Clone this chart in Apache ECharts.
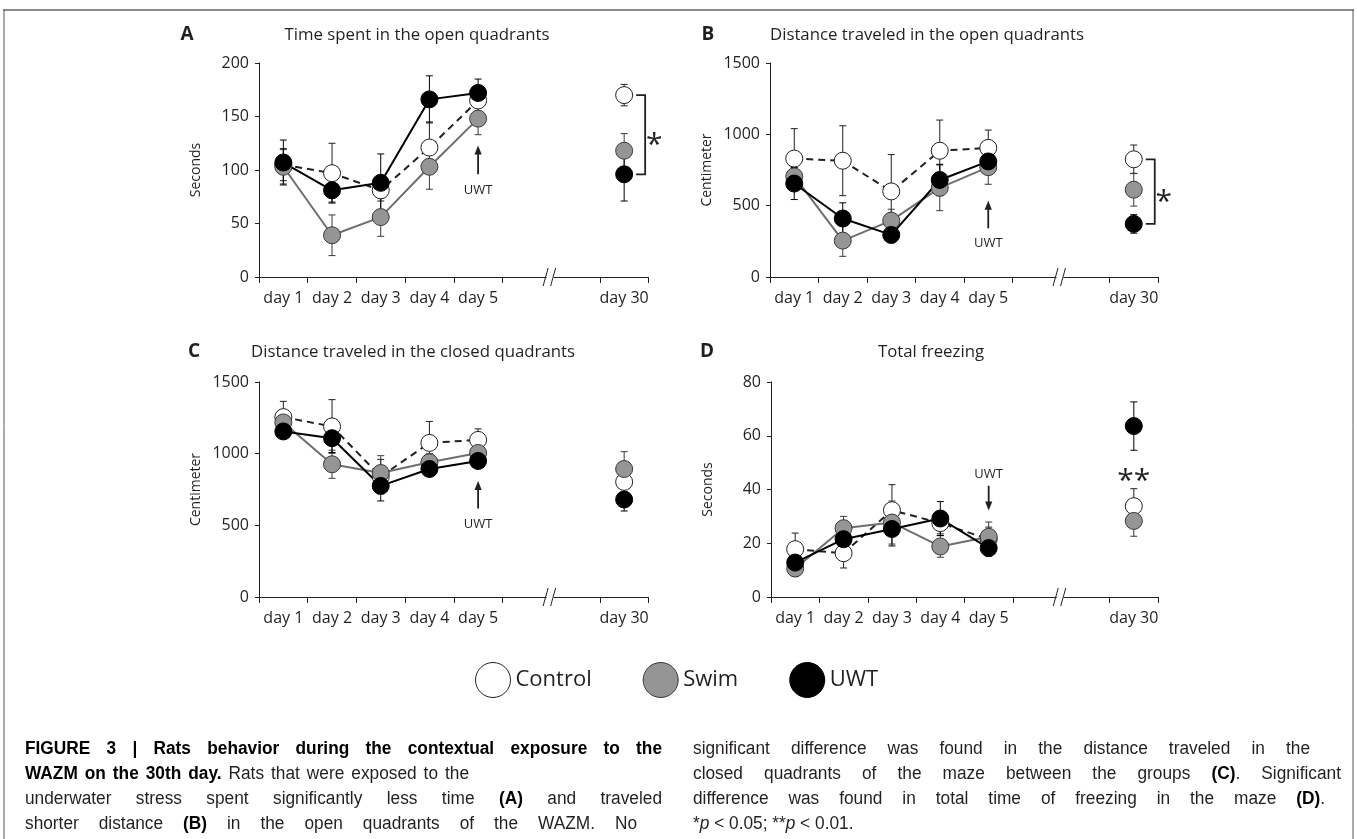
<!DOCTYPE html>
<html>
<head>
<meta charset="utf-8">
<title>Figure 3</title>
<script src="https://cdn.jsdelivr.net/npm/echarts@6.0.0/dist/echarts.min.js"></script>
<style>
html,body{margin:0;padding:0;background:#ffffff;}
#chart{width:1357px;height:839px;}
</style>
</head>
<body>
<div id="chart"></div>
<script>
// ---------------- data ----------------
const categories = ['day 1', 'day 2', 'day 3', 'day 4', 'day 5', ' ', '  ', 'day 30'];
const measuredAt = [0, 1, 2, 3, 4, 7];           // category index of each measurement
const groupNames = ['Control', 'Swim', 'UWT'];

const ticksA = [0, 50, 100, 150, 200];
const ticksB = [0, 500, 1000, 1500];
const ticksC = [0, 500, 1000, 1500];
const ticksD = [0, 20, 40, 60, 80];

// A  Time spent in the open quadrants (s)
const timeOpenControl = [105, 97, 81, 121, 165, 170];
const timeOpenControlSem = [15, 28, 10, 24, 10, 10];
const timeOpenSwim = [103, 39, 56, 103, 148, 118];
const timeOpenSwimSem = [16, 19, 18, 21, 15, 16];
const timeOpenUwt = [107, 81, 88, 166, 172, 96];
const timeOpenUwtSem = [21, 11, 27, 22, 13, 25];

// B  Distance traveled in the open quadrants (cm)
const distOpenControl = [830, 815, 600, 885, 905, 825];
const distOpenControlSem = [210, 245, 258, 215, 125, 100];
const distOpenSwim = [705, 255, 395, 625, 770, 612];
const distOpenSwimSem = [60, 110, 80, 160, 120, 115];
const distOpenUwt = [655, 410, 295, 680, 810, 372];
const distOpenUwtSem = [112, 110, 55, 110, 90, 65];

// C  Distance traveled in the closed quadrants (cm)
const distClosedControl = [1255, 1190, 840, 1075, 1096, 803];
const distClosedControlSem = [110, 187, 120, 150, 77, 80];
const distClosedSwim = [1218, 926, 865, 940, 1005, 893];
const distClosedSwimSem = [40, 98, 121, 60, 40, 121];
const distClosedUwt = [1155, 1108, 775, 893, 949, 680];
const distClosedUwtSem = [40, 100, 105, 40, 40, 80];

// D  Total freezing (s)
const freezeControl = [17.8, 16.3, 32.3, 27.5, 21.5, 33.8];
const freezeControlSem = [6, 5.5, 9.5, 4, 4.5, 6.5];
const freezeSwim = [10.6, 25.6, 27.7, 18.8, 22.4, 28.3];
const freezeSwimSem = [3, 4.4, 8, 4, 5.5, 5.7];
const freezeUwt = [12.8, 21.5, 25.3, 29.2, 18.2, 63.6];
const freezeUwtSem = [3, 4, 6.3, 6.3, 3, 9];

// caption text (style: b bold, n normal, i italic)
const captionLeft = [
  [['b', 'FIGURE 3 | Rats behavior during the contextual exposure to the']],
  [['b', 'WAZM on the 30th day.'], ['n', ' Rats that were exposed to the']],
  [['n', 'underwater stress spent significantly less time '], ['b', '(A)'], ['n', ' and traveled']],
  [['n', 'shorter distance '], ['b', '(B)'], ['n', ' in the open quadrants of the WAZM. No']]
];
const captionRight = [
  [['n', 'significant difference was found in the distance traveled in the']],
  [['n', 'closed quadrants of the maze between the groups '], ['b', '(C)'], ['n', '. Significant']],
  [['n', 'difference was found in total time of freezing in the maze '], ['b', '(D)'], ['n', '.']],
  [['n', '*'], ['i', 'p'], ['n', ' < 0.05;  **'], ['i', 'p'], ['n', ' < 0.01.']]
];

// ---------------- layout & styles ----------------
const ink = '#231f20';
const FONT = '"Open Sans", "Noto Sans", sans-serif';
const CAP_FONT = '"Liberation Sans", Arial, sans-serif';

const groupStyles = [
  { fill: '#ffffff', border: ink, line: ink, dash: [7, 5], err: ink },
  { fill: '#959595', border: '#3a3a3a', line: '#6e6e6e', dash: 'solid', err: '#3a3a3a' },
  { fill: '#000000', border: '#000000', line: '#000000', dash: 'solid', err: '#000000' }
];

const panels = [
  { letter: 'A', title: 'Time spent in the open quadrants', yName: 'Seconds', ticks: ticksA,
    values: [timeOpenControl, timeOpenSwim, timeOpenUwt],
    sems: [timeOpenControlSem, timeOpenSwimSem, timeOpenUwtSem],
    grid: { left: 259, top: 63, width: 389.5, height: 214 },
    letterPos: [187, 35], titlePos: [417, 35],
    uwt: { base: 96, tip: 123, label: 81 }, sig: { type: 'bracket', text: '*' } },
  { letter: 'B', title: 'Distance traveled in the open quadrants', yName: 'Centimeter', ticks: ticksB,
    values: [distOpenControl, distOpenSwim, distOpenUwt],
    sems: [distOpenControlSem, distOpenSwimSem, distOpenUwtSem],
    grid: { left: 770, top: 63, width: 388, height: 214 },
    letterPos: [708, 35], titlePos: [927, 35],
    uwt: { base: 341, tip: 535, label: 236 }, sig: { type: 'bracket', text: '*' } },
  { letter: 'C', title: 'Distance traveled in the closed quadrants', yName: 'Centimeter', ticks: ticksC,
    values: [distClosedControl, distClosedSwim, distClosedUwt],
    sems: [distClosedControlSem, distClosedSwimSem, distClosedUwtSem],
    grid: { left: 259, top: 382, width: 389.5, height: 215 },
    letterPos: [194, 352], titlePos: [413, 352],
    uwt: { base: 618, tip: 809, label: 508 }, sig: null },
  { letter: 'D', title: 'Total freezing', yName: 'Seconds', ticks: ticksD,
    values: [freezeControl, freezeSwim, freezeUwt],
    sems: [freezeControlSem, freezeSwimSem, freezeUwtSem],
    grid: { left: 771, top: 382, width: 387, height: 215 },
    letterPos: [707, 352], titlePos: [931, 352],
    uwt: { base: 41.4, tip: 32.2, label: 45.7 }, sig: { type: 'text', text: '**', value: 45.7 } }
];

function toLineData(vals) {
  const d = categories.map(() => '-');
  measuredAt.forEach((c, i) => { d[c] = vals[i]; });
  return d;
}
function toErrData(vals, sems) {
  return measuredAt.map((c, i) => [c, vals[i] - sems[i], vals[i] + sems[i]]);
}
function errRenderer(color) {
  return function (params, api) {
    const x = api.value(0);
    const lo = api.coord([x, api.value(1)]);
    const hi = api.coord([x, api.value(2)]);
    const w = 3.5;
    const st = { stroke: color, lineWidth: 1 };
    return {
      type: 'group',
      children: [
        { type: 'line', shape: { x1: lo[0], y1: lo[1], x2: hi[0], y2: hi[1] }, style: st },
        { type: 'line', shape: { x1: lo[0] - w, y1: lo[1], x2: lo[0] + w, y2: lo[1] }, style: st },
        { type: 'line', shape: { x1: hi[0] - w, y1: hi[1], x2: hi[0] + w, y2: hi[1] }, style: st }
      ]
    };
  };
}

const grids = [], xAxes = [], yAxes = [], series = [];
panels.forEach((P, p) => {
  grids.push(Object.assign({ containLabel: false }, P.grid));
  xAxes.push({
    type: 'category', gridIndex: p, data: categories, boundaryGap: true,
    axisLine: { lineStyle: { color: ink, width: 1 } },
    axisTick: { show: true, length: 6, interval: (i) => i !== 6, lineStyle: { color: ink, width: 1 } },
    axisLabel: { interval: 0, margin: 13, color: ink, fontSize: 16, fontFamily: FONT },
    splitLine: { show: false }
  });
  const t = P.ticks;
  yAxes.push({
    type: 'value', gridIndex: p, min: t[0], max: t[t.length - 1], interval: t[1] - t[0],
    name: P.yName, nameLocation: 'middle', nameGap: 56, nameRotate: 90,
    nameTextStyle: { color: ink, fontSize: 14, fontFamily: FONT },
    axisLine: { show: true, lineStyle: { color: ink, width: 1 } },
    axisTick: { show: true, length: 4, lineStyle: { color: ink, width: 1 } },
    axisLabel: { margin: 10, color: ink, fontSize: 16, fontFamily: FONT, formatter: (v) => String(v) },
    splitLine: { show: false }
  });
  groupNames.forEach((name, g) => {
    const S = groupStyles[g];
    series.push({
      type: 'custom', name: name + ' SEM', xAxisIndex: p, yAxisIndex: p,
      data: toErrData(P.values[g], P.sems[g]), encode: { x: 0, y: [1, 2] },
      renderItem: errRenderer(S.err), z: 2, silent: true, animation: false
    });
  });
  groupNames.forEach((name, g) => {
    const S = groupStyles[g];
    series.push({
      type: 'line', name: name, xAxisIndex: p, yAxisIndex: p,
      data: toLineData(P.values[g]), connectNulls: false,
      symbol: 'circle', symbolSize: 17, showSymbol: true, showAllSymbol: true,
      lineStyle: { color: S.line, width: 2, type: S.dash },
      itemStyle: { color: S.fill, borderColor: S.border, borderWidth: 1 },
      emphasis: { disabled: true }, z: 3, silent: true, animation: false
    });
  });
});

const chart = echarts.init(document.getElementById('chart'), null, { renderer: 'canvas' });
chart.setOption({
  backgroundColor: '#ffffff',
  animation: false,
  textStyle: { fontFamily: FONT, color: ink },
  grid: grids, xAxis: xAxes, yAxis: yAxes, series: series,
  legend: {
    left: 475, top: 662, padding: 0, itemWidth: 35, itemHeight: 35, itemGap: 51, icon: 'circle',
    selectedMode: false,
    textStyle: { fontSize: 22, color: ink, fontFamily: FONT },
    data: groupNames.map((n, g) => ({
      name: n,
      itemStyle: { color: groupStyles[g].fill, borderColor: groupStyles[g].border, borderWidth: 1 }
    }))
  }
});

// ---------------- overlay: titles, annotations, breaks, caption ----------------
const measureCtx = document.createElement('canvas').getContext('2d');
const CAP_SIZE = 18;
const CAP_SCALE = 0.96;
function capFont(st) {
  return (st === 'i' ? 'italic ' : '') + (st === 'b' ? 'bold ' : '') + CAP_SIZE + 'px ' + CAP_FONT;
}
function splitWords(segs) {
  const ws = []; let cur = null; let brk = true;
  segs.forEach(([st, txt]) => {
    txt.split(' ').forEach((w, i) => {
      if (i > 0) brk = true;
      if (w === '') return;
      if (brk || !cur) { cur = []; ws.push(cur); brk = false; }
      cur.push([st, w]);
    });
  });
  return ws;
}
function captionLine(segs, x, y, target) {
  const ws = splitWords(segs);
  let sum = 0;
  ws.forEach(w => w.forEach(([st, t]) => { measureCtx.font = capFont(st); sum += measureCtx.measureText(t).width; }));
  measureCtx.font = capFont('n');
  let gap = measureCtx.measureText(' ').width;
  if (target) gap = Math.max(gap, (target / CAP_SCALE - sum) / (ws.length - 1));
  const text = ws.map(w => w.map(([st, t]) => '{' + st + '|' + t + '}').join('')).join('{g| }');
  const base = { fontSize: CAP_SIZE, fontFamily: CAP_FONT, fill: ink };
  return {
    type: 'text', x: x, y: y, scaleX: CAP_SCALE, z: 50,
    style: {
      text: text, verticalAlign: 'middle', textVerticalAlign: 'middle', align: 'left', textAlign: 'left',
      rich: {
        n: Object.assign({}, base),
        b: Object.assign({}, base, { fontWeight: 'bold', fill: '#000' }),
        i: Object.assign({}, base, { fontStyle: 'italic' }),
        g: Object.assign({}, base, { width: gap })
      }
    }
  };
}
function txt(x, y, s, font, extra) {
  return Object.assign({
    type: 'text', x: x, y: y, z: 50,
    style: { text: s, font: font, fill: ink, align: 'center', textAlign: 'center', verticalAlign: 'middle', textVerticalAlign: 'middle' }
  }, extra || {});
}

function overlay() {
  const g = [];
  // figure frame
  g.push({ type: 'line', z: 50, shape: { x1: 3, y1: 10, x2: 1354, y2: 10 }, style: { stroke: '#8a8a8a', lineWidth: 2 } });
  g.push({ type: 'line', z: 50, shape: { x1: 4, y1: 10, x2: 4, y2: 839 }, style: { stroke: '#555', lineWidth: 1 } });
  g.push({ type: 'line', z: 50, shape: { x1: 1353, y1: 10, x2: 1353, y2: 839 }, style: { stroke: '#555', lineWidth: 1 } });

  panels.forEach((P, p) => {
    const px = (x, y) => chart.convertToPixel({ gridIndex: p }, [x, y]);
    g.push(txt(P.letterPos[0], P.letterPos[1], P.letter, 'bold 19px ' + FONT));
    g.push(txt(P.titlePos[0], P.titlePos[1], P.title, '16.8px ' + FONT));

    // axis break
    const a5 = px(5, 0), a6 = px(6, 0);
    const bx = (a5[0] + a6[0]) / 2, by = a5[1];
    g.push({ type: 'rect', z: 60, shape: { x: bx - 4.5, y: by - 2, width: 7, height: 10 }, style: { fill: '#fff' } });
    [bx - 5.5, bx + 2].forEach(cx => g.push({ type: 'line', z: 61,
      shape: { x1: cx - 2.5, y1: by + 9, x2: cx + 2.5, y2: by - 9 }, style: { stroke: ink, lineWidth: 1 } }));

    // UWT arrow
    const u = P.uwt;
    const pb = px(4, u.base), pt = px(4, u.tip), pl = px(4, u.label);
    const dir = pt[1] < pb[1] ? -1 : 1;
    g.push({ type: 'line', z: 50, shape: { x1: pb[0], y1: pb[1], x2: pt[0], y2: pt[1] - dir * 6 }, style: { stroke: ink, lineWidth: 1.8 } });
    g.push({ type: 'polygon', z: 50, shape: { points: [[pt[0], pt[1]], [pt[0] - 3.6, pt[1] - dir * 9], [pt[0] + 3.6, pt[1] - dir * 9]] }, style: { fill: ink } });
    g.push(txt(pl[0], pl[1], 'UWT', '13px ' + FONT));

    // significance
    if (P.sig && P.sig.type === 'bracket') {
      const top = px(7, P.values[0][5]), bot = px(7, P.values[2][5]);
      const vx = top[0] + 21;
      g.push({ type: 'polyline', z: 50, shape: { points: [[top[0] + 12, top[1]], [vx, top[1]], [vx, bot[1]], [top[0] + 12, bot[1]]] },
        style: { stroke: ink, lineWidth: 1.8, fill: null } });
      g.push(txt(top[0] + 30, (top[1] + bot[1]) / 2 + 11, P.sig.text, '30px ' + FONT));
    } else if (P.sig && P.sig.type === 'text') {
      const s = px(7, P.sig.value);
      g.push(txt(s[0], s[1] + 7, P.sig.text, '30px ' + FONT));
    }
  });

  // caption
  const leftTargets = [637, 444, 637, 612];
  const rightTargets = [617, 648, 632, null];
  const lineYs = [749, 774, 799, 824];
  captionLeft.forEach((segs, i) => g.push(captionLine(segs, 25, lineYs[i], leftTargets[i])));
  captionRight.forEach((segs, i) => g.push(captionLine(segs, 693, lineYs[i], rightTargets[i])));

  chart.setOption({ graphic: { elements: g } });
}
overlay();
</script>
</body>
</html>
